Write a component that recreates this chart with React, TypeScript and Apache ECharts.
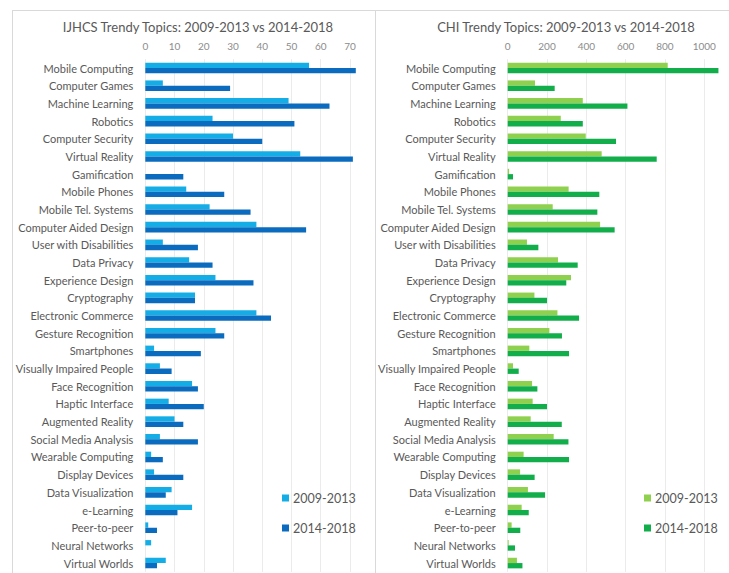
import React, { useEffect, useRef } from "react";
import * as echarts from "echarts";

const categories = [
  "Mobile Computing", "Computer Games", "Machine Learning", "Robotics", "Computer Security",
  "Virtual Reality", "Gamification", "Mobile Phones", "Mobile Tel. Systems", "Computer Aided Design",
  "User with Disabilities", "Data Privacy", "Experience Design", "Cryptography", "Electronic Commerce",
  "Gesture Recognition", "Smartphones", "Visually Impaired People", "Face Recognition", "Haptic Interface",
  "Augmented Reality", "Social Media Analysis", "Wearable Computing", "Display Devices", "Data Visualization",
  "e-Learning", "Peer-to-peer", "Neural Networks", "Virtual Worlds",
];

const seriesNames = ["2009-2013", "2014-2018"];

const ijhcs2009 = [56, 6, 49, 23, 30, 53, 0, 14, 22, 38, 6, 15, 24, 17, 38, 24, 3, 5, 16, 8, 10, 5, 2, 3, 9, 16, 1, 2, 7];
const ijhcs2014 = [72, 29, 63, 51, 40, 71, 13, 27, 36, 55, 18, 23, 37, 17, 43, 27, 19, 9, 18, 20, 13, 18, 6, 13, 7, 11, 4, 0, 4];

const chi2009 = [814, 139, 382, 270, 397, 478, 7, 310, 229, 470, 98, 256, 322, 136, 253, 212, 110, 27, 124, 127, 117, 234, 81, 63, 103, 71, 20, 5, 47];
const chi2014 = [1072, 239, 609, 382, 551, 758, 27, 466, 456, 544, 156, 356, 298, 200, 363, 276, 312, 56, 151, 200, 275, 309, 312, 137, 190, 107, 64, 37, 75];

const ijhcsTitle = "IJHCS Trendy Topics: 2009-2013 vs 2014-2018";
const chiTitle = "CHI Trendy Topics: 2009-2013 vs 2014-2018";

const FONT = "Lato, 'Open Sans', sans-serif";
const BORDER = "#d9d9d9";

function buildOption(cfg: {
  title: string;
  titleX: number;
  gridLeft: number;
  gridRight: number;
  max: number;
  interval: number;
  light: string;
  dark: string;
  a: number[];
  b: number[];
  legendLeft: number;
  borders: any[];
}) {
  return {
    animation: false,
    backgroundColor: "#ffffff",
    title: {
      text: cfg.title,
      left: cfg.titleX,
      top: 15,
      textAlign: "center",
      textStyle: { fontFamily: FONT, fontSize: 13, fontWeight: "normal", color: "#595959" },
    },
    legend: {
      orient: "vertical",
      left: cfg.legendLeft,
      top: 491.5,
      padding: 0,
      itemWidth: 7,
      itemHeight: 7,
      itemGap: 17,
      icon: "rect",
      textStyle: { fontFamily: FONT, fontSize: 12.5, color: "#595959", padding: [0, 0, 0, -1] },
      data: seriesNames,
    },
    grid: { left: cfg.gridLeft, right: cfg.gridRight, top: 59.2, bottom: 1.1, containLabel: false, outerBoundsMode: "none" },
    xAxis: {
      type: "value",
      position: "top",
      min: 0,
      max: cfg.max,
      interval: cfg.interval,
      axisLine: { show: false },
      axisTick: { show: false },
      axisLabel: {
        fontFamily: FONT,
        fontSize: 10,
        color: "#8c8c8c",
        margin: 8,
        formatter: (v: number) => (v >= cfg.max ? "" : String(v)),
      },
      splitLine: { show: true, lineStyle: { color: "#ebebeb", width: 1 } },
    },
    yAxis: {
      type: "category",
      inverse: true,
      data: categories,
      axisLine: { show: false },
      axisTick: { show: false },
      axisLabel: { fontFamily: FONT, fontSize: 11, color: "#595959", margin: 12 },
    },
    series: [
      {
        name: seriesNames[0],
        type: "bar",
        data: cfg.a,
        barGap: "0%",
        barCategoryGap: "40%",
        itemStyle: { color: cfg.light },
      },
      {
        name: seriesNames[1],
        type: "bar",
        data: cfg.b,
        barGap: "0%",
        barCategoryGap: "40%",
        itemStyle: { color: cfg.dark },
      },
    ],
    graphic: cfg.borders,
  };
}

function Chart({ option, style }: { option: any; style: React.CSSProperties }) {
  const ref = useRef<HTMLDivElement>(null);
  useEffect(() => {
    if (!ref.current) return;
    const chart = echarts.init(ref.current, undefined, { renderer: "svg" });
    chart.setOption(option);
    return () => chart.dispose();
  }, [option]);
  return <div ref={ref} style={style} />;
}

const lineStyle = { stroke: BORDER, lineWidth: 1 };

const leftOption = buildOption({
  title: ijhcsTitle,
  titleX: 193,
  gridLeft: 145.3,
  gridRight: -4.2,
  max: 80,
  interval: 10,
  light: "#14ade6",
  dark: "#0b6cbf",
  a: ijhcs2009,
  b: ijhcs2014,
  legendLeft: 282,
  borders: [
    { type: "line", silent: true, z: 100, shape: { x1: 12.5, y1: 10, x2: 12.5, y2: 573 }, style: lineStyle },
    { type: "line", silent: true, z: 100, shape: { x1: 12, y1: 10.5, x2: 375, y2: 10.5 }, style: lineStyle },
  ],
});

const rightOption = buildOption({
  title: chiTitle,
  titleX: 186,
  gridLeft: 132.7,
  gridRight: -14.6,
  max: 1200,
  interval: 200,
  light: "#8fd14f",
  dark: "#12ae4b",
  a: chi2009,
  b: chi2014,
  legendLeft: 269,
  borders: [
    { type: "line", silent: true, z: 100, shape: { x1: 0.5, y1: 10, x2: 0.5, y2: 573 }, style: lineStyle },
    { type: "line", silent: true, z: 100, shape: { x1: 0, y1: 10.5, x2: 354, y2: 10.5 }, style: lineStyle },
  ],
});

export default function App() {
  return (
    <div style={{ position: "fixed", left: 0, top: 0, width: 729, height: 573, background: "#fff", overflow: "hidden" }}>
      <Chart option={leftOption} style={{ position: "absolute", left: 0, top: 0, width: 375, height: 573 }} />
      <Chart option={rightOption} style={{ position: "absolute", left: 375, top: 0, width: 354, height: 573 }} />
    </div>
  );
}
